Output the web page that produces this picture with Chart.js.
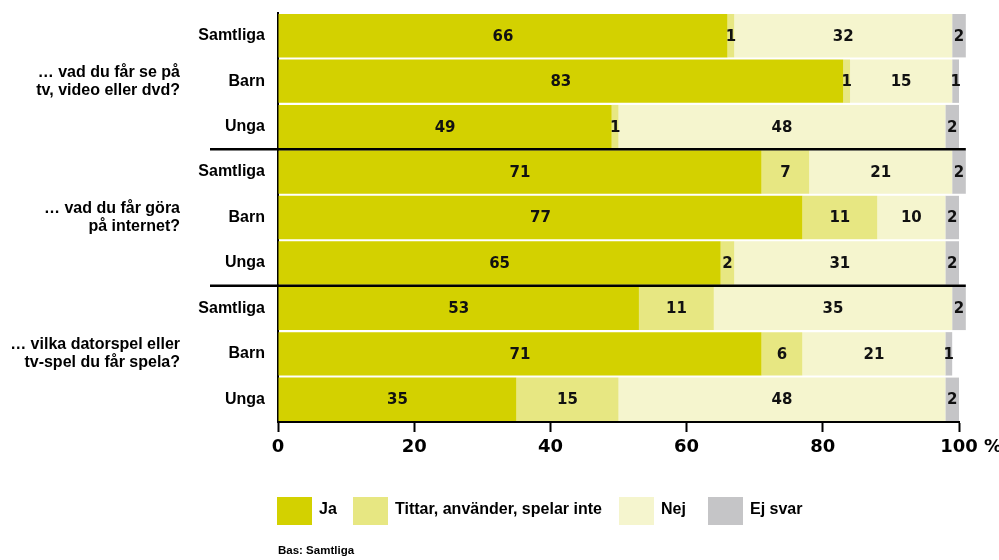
<!DOCTYPE html>
<html>
<head>
<meta charset="utf-8">
<script src="https://cdn.jsdelivr.net/npm/chart.js@4"></script>
<style>
  body { margin: 0; background: #fff; }
  canvas { display: block; }
</style>
</head>
<body>
<canvas id="chart" width="999" height="560"></canvas>
<script>
const rows = ["Samtliga", "Barn", "Unga", "Samtliga", "Barn", "Unga", "Samtliga", "Barn", "Unga"]
const groups = [
  ["… vad du får se på", "tv, video eller dvd?"],
  ["… vad du får göra", "på internet?"],
  ["… vilka datorspel eller", "tv-spel du får spela?"]
]
const ja = [66, 83, 49, 71, 77, 65, 53, 71, 35]
const tittar = [1, 1, 1, 7, 11, 2, 11, 6, 15]
const nej = [32, 15, 48, 21, 10, 31, 35, 21, 48]
const ejSvar = [2, 1, 2, 2, 2, 2, 2, 1, 2]
const xTicks = [0, 20, 40, 60, 80, 100]

const FONT = "'Liberation Sans', Arial, sans-serif"
const NUMFONT = "'DejaVu Sans', sans-serif"

const series = [
  { label: "Ja", data: ja, color: "rgb(211, 209, 0)" },
  { label: "Tittar, använder, spelar inte", data: tittar, color: "rgb(231, 231, 130)" },
  { label: "Nej", data: nej, color: "rgb(245, 245, 206)" },
  { label: "Ej svar", data: ejSvar, color: "rgb(197, 197, 199)" }
]

// legend box left edges
const legendX = [277, 353, 619, 708]

const extras = {
  id: "extras",
  afterDatasetsDraw(chart) {
    const ctx = chart.ctx
    const xs = chart.scales.x
    const ys = chart.scales.y

    // segment values
    ctx.save()
    ctx.font = "bold 15px " + NUMFONT
    ctx.fillStyle = "#111"
    ctx.textAlign = "center"
    ctx.textBaseline = "middle"
    chart.data.datasets.forEach((ds, i) => {
      chart.getDatasetMeta(i).data.forEach((bar, j) => {
        ctx.fillText(ds.data[j], (bar.x + bar.base) / 2, bar.y + 1)
      })
    })
    ctx.restore()

    // group separators and group labels
    ctx.save()
    ctx.strokeStyle = "#000"
    ctx.lineWidth = 2.5
    for (let g = 1; g < groups.length; g++) {
      const y = (ys.getPixelForValue(g * 3 - 1) + ys.getPixelForValue(g * 3)) / 2
      ctx.beginPath()
      ctx.moveTo(210, y)
      ctx.lineTo(xs.getPixelForValue(101), y)
      ctx.stroke()
    }
    ctx.font = "bold 16px " + FONT
    ctx.fillStyle = "#000"
    ctx.textAlign = "right"
    ctx.textBaseline = "middle"
    groups.forEach((lines, g) => {
      const yc = ys.getPixelForValue(g * 3 + 1)
      ctx.fillText(lines[0], 180, yc - 9)
      ctx.fillText(lines[1], 180, yc + 9)
    })
    ctx.restore()
  },
  afterDraw(chart) {
    const ctx = chart.ctx
    const xs = chart.scales.x

    // percent sign after 100
    ctx.save()
    ctx.font = "bold 18px " + NUMFONT
    ctx.fillStyle = "#000"
    ctx.textBaseline = "middle"
    const w100 = ctx.measureText("100").width
    ctx.textAlign = "left"
    ctx.fillText(" %", xs.getPixelForValue(100) + w100 / 2, 447)
    ctx.restore()

    // legend
    ctx.save()
    ctx.font = "bold 16px " + FONT
    ctx.textBaseline = "middle"
    ctx.textAlign = "left"
    series.forEach((s, i) => {
      const x = legendX[i]
      ctx.fillStyle = s.color
      ctx.fillRect(x, 497, 35, 28)
      ctx.fillStyle = "#000"
      ctx.fillText(s.label, x + 42, 510)
    })
    ctx.font = "bold 11.5px " + FONT
    ctx.fillText("Bas: Samtliga", 278, 551)
    ctx.restore()
  }
}

new Chart(document.getElementById("chart"), {
  type: "bar",
  data: {
    labels: rows,
    datasets: series.map(s => ({
      label: s.label,
      data: s.data,
      backgroundColor: s.color,
      borderWidth: 0,
      barPercentage: 0.955,
      categoryPercentage: 1,
      clip: false
    }))
  },
  options: {
    indexAxis: "y",
    responsive: false,
    animation: false,
    layout: { padding: { top: 13, right: 40, bottom: 98, left: 0 } },
    plugins: {
      legend: { display: false },
      tooltip: { enabled: false }
    },
    scales: {
      x: {
        stacked: true,
        min: 0,
        max: 100,
        afterFit: s => { s.height = 40; s.paddingLeft = 0; s.paddingRight = 0 },
        afterBuildTicks: s => { s.ticks = xTicks.map(v => ({ value: v })) },
        grid: {
          drawOnChartArea: false,
          drawTicks: true,
          tickLength: 10,
          tickColor: "#000",
          tickWidth: 2
        },
        border: { display: true, color: "#000", width: 2 },
        ticks: {
          padding: 5,
          color: "#000",
          font: { family: NUMFONT, size: 18, weight: "bold" }
        }
      },
      y: {
        stacked: true,
        afterFit: s => { s.width = 278; s.paddingTop = 0; s.paddingBottom = 0 },
        grid: { display: false, drawTicks: false, tickLength: 0 },
        border: { display: true, color: "#000", width: 2 },
        ticks: {
          padding: 13,
          color: "#000",
          font: { family: FONT, size: 16, weight: "bold" }
        }
      }
    }
  },
  plugins: [extras]
})
</script>
</body>
</html>
